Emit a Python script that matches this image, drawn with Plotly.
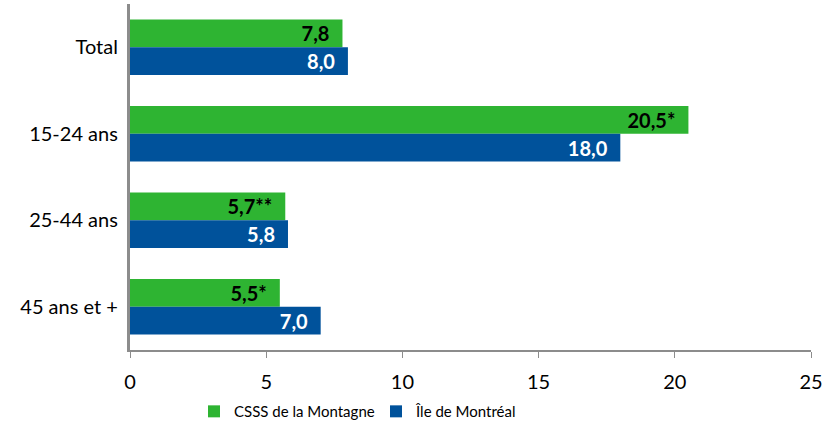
import plotly.graph_objects as go

categories = ["Total", "15-24 ans", "25-44 ans", "45 ans et +"]
csss_values = [7.8, 20.5, 5.7, 5.5]
csss_labels = ["7,8", "20,5*", "5,7**", "5,5*"]
mtl_values = [8.0, 18.0, 5.8, 7.0]
mtl_labels = ["8,0", "18,0", "5,8", "7,0"]
x_ticks = [0, 5, 10, 15, 20, 25]

FONT = "Lato, 'Open Sans', sans-serif"

fig = go.Figure()
fig.add_trace(go.Bar(
    y=categories, x=csss_values, orientation="h", name="CSSS de la Montagne",
    marker=dict(color="#2EB432", line=dict(width=0)),
    text=csss_labels, texttemplate="%{text}\u2002", textposition="inside",
    insidetextanchor="end",
    textfont=dict(family=FONT, size=20, color="black", weight="bold"),
    cliponaxis=False,
))
fig.add_trace(go.Bar(
    y=categories, x=mtl_values, orientation="h", name="Île de Montréal",
    marker=dict(color="#00529B", line=dict(width=0)),
    text=mtl_labels, texttemplate="%{text}\u2002", textposition="inside",
    insidetextanchor="end",
    textfont=dict(family=FONT, size=20, color="white", weight="bold"),
    cliponaxis=False,
))

fig.update_layout(
    width=825, height=432,
    margin=dict(l=130, r=14, t=4, b=79),
    paper_bgcolor="white", plot_bgcolor="white",
    barmode="group", bargap=0.36, bargroupgap=0,
    font=dict(family=FONT, size=20, color="black"),
    uniformtext=dict(minsize=20, mode="show"),
    showlegend=True,
    legend=dict(orientation="h", x=0.094, xanchor="left", y=-0.178, yanchor="middle",
                font=dict(family=FONT, size=15), traceorder="normal",
                itemwidth=30, entrywidth=137),
    xaxis=dict(range=[0, 25], tickvals=x_ticks, ticktext=[str(v) for v in x_ticks],
               showgrid=False, zeroline=False, showline=True, linecolor="#8C8C8C",
               linewidth=2, ticks="outside", ticklen=6, tickcolor="#8C8C8C", tickwidth=1,
               ticklabelstandoff=7,
               tickfont=dict(family=FONT, size=20, color="black"), automargin=False),
    yaxis=dict(autorange="reversed", showgrid=False, zeroline=False, showline=True,
               linecolor="#8C8C8C", linewidth=3, ticks="", ticklen=0,
               tickfont=dict(family=FONT, size=20, color="black"),
               ticksuffix=" ", automargin=False),
)

fig.write_html("out.html", config={"displayModeBar": False},
               post_script="document.body.style.margin='0';")
